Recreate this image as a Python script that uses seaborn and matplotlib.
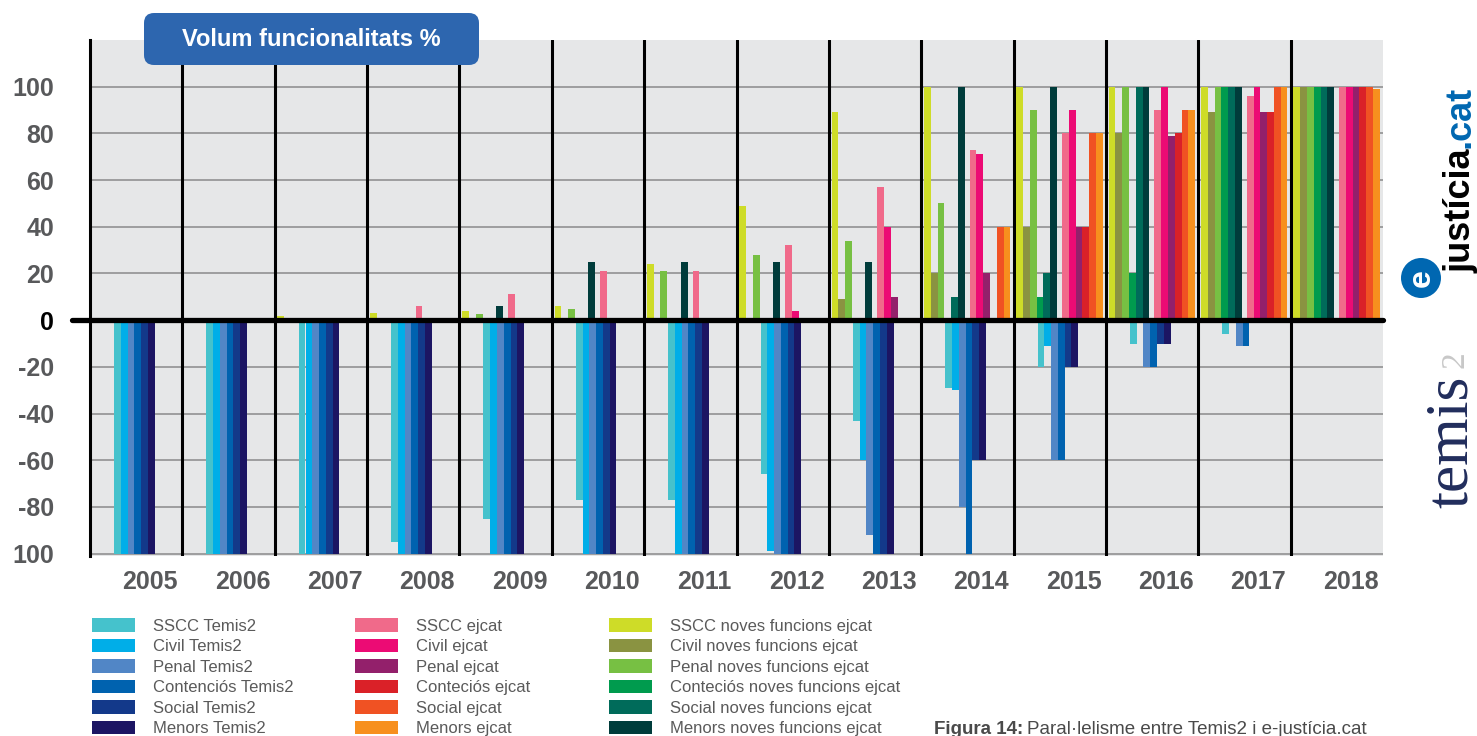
import matplotlib
matplotlib.use('Agg')
import matplotlib.pyplot as plt
from matplotlib.patches import Patch, FancyBboxPatch, Circle
import pandas as pd
import seaborn as sns

# --- data ---------------------------------------------------------------
years = list(range(2005, 2019))

temis_series = ['SSCC Temis2', 'Civil Temis2', 'Penal Temis2',
                 'Contenciós Temis2', 'Social Temis2', 'Menors Temis2']
temis_colors = ['#45C2CC', '#00AEE8', '#5186C6', '#0062AF', '#13398A', '#1C1563']
sscc_temis = [-100, -100, -100, -95, -85, -77, -77, -66, -43, -29, -20, -10, -6, 0]
civil_temis = [-100, -100, -100, -100, -100, -100, -100, -99, -60, -30, -11, 0, 0, 0]
penal_temis = [-100, -100, -100, -100, -100, -100, -100, -100, -92, -80, -60, -20, -11, 0]
cont_temis = [-100, -100, -100, -100, -100, -100, -100, -100, -100, -100, -60, -20, -11, 0]
social_temis = [-100, -100, -100, -100, -100, -100, -100, -100, -100, -60, -20, -10, 0, 0]
menors_temis = [-100, -100, -100, -100, -100, -100, -100, -100, -100, -60, -20, -10, 0, 0]

ejcat_series = ['SSCC ejcat', 'Civil ejcat', 'Penal ejcat',
                'Conteciós ejcat', 'Social ejcat', 'Menors ejcat']
ejcat_colors = ['#F06A8A', '#EC0B74', '#93206B', '#DA2128', '#F05223', '#F7901E']
sscc_ejcat = [0, 0, 0, 6, 11, 21, 21, 32, 57, 73, 80, 90, 96, 100]
civil_ejcat = [0, 0, 0, 0, 0, 0, 0, 4, 40, 71, 90, 100, 100, 100]
penal_ejcat = [0, 0, 0, 0, 0, 0, 0, 0, 10, 20, 40, 79, 89, 100]
cont_ejcat = [0, 0, 0, 0, 0, 0, 0, 0, 0, 0, 40, 80, 89, 100]
social_ejcat = [0, 0, 0, 0, 0, 0, 0, 0, 0, 40, 80, 90, 100, 100]
menors_ejcat = [0, 0, 0, 0, 0, 0, 0, 0, 0, 40, 80, 90, 100, 99]

noves_series = ['SSCC noves funcions ejcat', 'Civil noves funcions ejcat',
                'Penal noves funcions ejcat', 'Conteciós noves funcions ejcat',
                'Social noves funcions ejcat', 'Menors noves funcions ejcat']
noves_colors = ['#CEDC28', '#8A9341', '#77C043', '#009B4E', '#006B5A', '#003C3B']
sscc_noves = [0, 0, 2, 3, 4, 6, 24, 49, 89, 100, 100, 100, 100, 100]
civil_noves = [0, 0, 0, 0, 0, 0, 0, 0, 9, 20, 40, 80, 89, 100]
penal_noves = [0, 0, 0, 0, 2.5, 5, 21, 28, 34, 50, 90, 100, 100, 100]
cont_noves = [0, 0, 0, 0, 0, 0, 0, 0, 0, 0, 10, 20, 100, 100]
social_noves = [0, 0, 0, 0, 0, 0, 0, 0, 0, 10, 20, 100, 100, 100]
menors_noves = [0, 0, 0, 0, 6, 25, 25, 25, 25, 100, 100, 100, 100, 100]

year_labels = [str(y) for y in years]
y_ticks = [100, 80, 60, 40, 20, 0, -20, -40, -60, -80, -100]
y_labels = ['100', '80', '60', '40', '20', '0', '-20', '-40', '-60', '-80', '100']


def long_df(series, values, offset):
    rows = []
    for name, vals in zip(series, values):
        for yr, v in zip(years, vals):
            rows.append({'x': yr + offset, 'serie': name, 'valor': v})
    return pd.DataFrame(rows)


df_noves = long_df(noves_series, [sscc_noves, civil_noves, penal_noves,
                                  cont_noves, social_noves, menors_noves], -0.25)
df_temis = long_df(temis_series, [sscc_temis, civil_temis, penal_temis,
                                  cont_temis, social_temis, menors_temis], -0.02)
df_ejcat = long_df(ejcat_series, [sscc_ejcat, civil_ejcat, penal_ejcat,
                                  cont_ejcat, social_ejcat, menors_ejcat], 0.245)

# --- figure -------------------------------------------------------------
sns.set_style('white')
plt.rcParams['font.family'] = ['Liberation Sans', 'DejaVu Sans']

W, H = 1477, 736
fig = plt.figure(figsize=(W / 100, H / 100), dpi=100)
ax = fig.add_axes([90 / W, 1 - 556 / H, (1383 - 90) / W, (556 - 40) / H])
ax.set_facecolor('#E6E7E8')

for d, ser, cols in [(df_noves, noves_series, noves_colors),
                     (df_temis, temis_series, temis_colors),
                     (df_ejcat, ejcat_series, ejcat_colors)]:
    sns.barplot(data=d, x='x', y='valor', hue='serie', hue_order=ser,
                palette=dict(zip(ser, cols)), native_scale=True, width=0.44,
                errorbar=None, saturation=1, linewidth=0, legend=False,
                ax=ax, zorder=2)

ax.set_xlim(2004.5, 2018.5)
ax.set_ylim(-101, 120)
ax.set_xlabel('')
ax.set_ylabel('')

# grid + separators
for yv in y_ticks:
    if yv != 0:
        ax.axhline(yv, color='#9E9E9E', lw=1.4, zorder=1)
for yr in years[:-1]:
    ax.axvline(yr + 0.5, color='black', lw=2.2, zorder=1.5)
ax.axhline(0, xmin=-0.014, xmax=1, color='black', lw=3.8, zorder=5, clip_on=False)

for s in ['top', 'right', 'bottom']:
    ax.spines[s].set_visible(False)
ax.spines['left'].set_color('black')
ax.spines['left'].set_linewidth(2.2)

# year labels sit a little right of the group centre in the original
ax.set_xticks([y + 0.15 for y in years])
ax.set_xticklabels(year_labels, fontsize=18, fontweight='bold', color='#58595B')
ax.set_yticks(y_ticks)
ax.set_yticklabels(y_labels, fontsize=18, fontweight='bold', color='#58595B')
for lab in ax.get_yticklabels():
    if lab.get_text() == '0':
        lab.set_color('black')
ax.tick_params(axis='both', length=0)
ax.tick_params(axis='y', pad=26)
ax.tick_params(axis='x', pad=10)

# title box
box = FancyBboxPatch((1.44, (H - 65) / 100), 3.35, 0.52,
                     boxstyle='round,pad=0,rounding_size=0.1',
                     transform=fig.dpi_scale_trans, facecolor='#2D66AF',
                     edgecolor='none', zorder=10)
fig.patches.append(box)
fig.text(1.44 + 3.35 / 2, (H - 39) / 100, 'Volum funcionalitats %',
         transform=fig.dpi_scale_trans, ha='center', va='center',
         fontsize=17, fontweight='bold', color='white', zorder=11)


# legends, three columns
def add_legend(series, colors, x_px):
    handles = [Patch(facecolor=c, edgecolor='none', label=s) for s, c in zip(series, colors)]
    leg = fig.legend(handles=handles, loc='upper left',
                     bbox_to_anchor=(x_px / W, 1 - 618 / H),
                     frameon=False, fontsize=12, borderpad=0, borderaxespad=0,
                     handlelength=2.6, handleheight=0.9, handletextpad=1.08,
                     labelspacing=0.29, labelcolor='#5A5A5A')
    return leg


add_legend(temis_series, temis_colors, 92)
add_legend(ejcat_series, ejcat_colors, 355)
add_legend(noves_series, noves_colors, 609)

# caption
fig.canvas.draw()
r = fig.canvas.get_renderer()
t1 = fig.text(934 / W, 1 - 729 / H, 'Figura 14:', ha='left', va='center',
              fontsize=13.5, fontweight='bold', color='#4A4A4A')
bb = t1.get_window_extent(renderer=r)
fig.text((bb.x1 + 4) / W, 1 - 729 / H, 'Paral·lelisme entre Temis2 i e-justícia.cat',
         ha='left', va='center', fontsize=13.5, color='#4A4A4A')

# logos
t_j = fig.text(1470 / W, 1 - 273 / H, 'justícia', rotation=90, rotation_mode='anchor',
               ha='left', va='baseline', fontsize=26, fontweight='bold', color='black')
bb = t_j.get_window_extent(renderer=r)
fig.text(1470 / W, (bb.y1 + 1) / H, '.cat', rotation=90, rotation_mode='anchor',
         ha='left', va='baseline', fontsize=26, fontweight='bold', color='#0067B1')
fig.patches.append(Circle((14.21, (H - 278) / 100), 0.20, transform=fig.dpi_scale_trans,
                          facecolor='#0067B1', edgecolor='none'))
fig.text(1422 / W, 1 - 278 / H, 'e', rotation=90, ha='center', va='center',
         fontsize=23, fontweight='bold', color='white')

fig.text(1455 / W, 1 - 360 / H, '2', rotation=90, ha='center', va='center',
         fontsize=24, color='#C8C8C8', family='Liberation Serif')
fig.text(1452 / W, 1 - 442 / H, 'temis', rotation=90, ha='center', va='center',
         fontsize=44, color='#212D5C', family='Liberation Serif')

fig.savefig('out.png', dpi=100)
